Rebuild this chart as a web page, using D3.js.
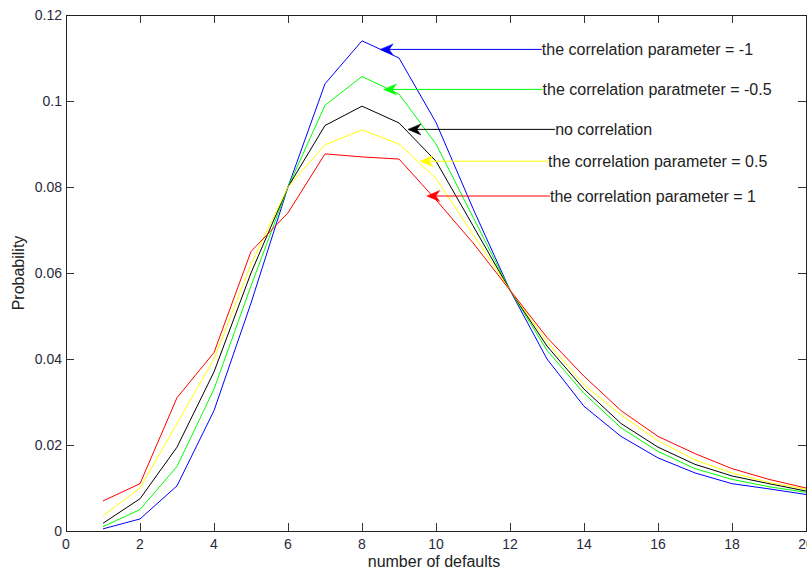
<!DOCTYPE html>
<html>
<head>
<meta charset="utf-8">
<script src="https://cdn.jsdelivr.net/npm/d3@7"></script>
<style>
  body { margin: 0; background: #fff; }
  svg { display: block; font-family: "Liberation Sans", Arial, sans-serif; }
</style>
</head>
<body>
<svg width="807" height="572"></svg>
<script>
// number of defaults
var defaults = [1,2,3,4,5,6,7,8,9,10,11,12,13,14,15,16,17,18,19,20];

// probability per correlation parameter
var rhoMinus1 = [0.0005,0.0028,0.0105,0.028,0.053,0.080,0.104,0.114,0.110,0.095,0.075,0.056,0.040,0.029,0.022,0.017,0.0135,0.011,0.0098,0.0085];
var rhoMinus05 = [0.001,0.005,0.015,0.033,0.057,0.080,0.099,0.1057,0.1016,0.090,0.073,0.056,0.042,0.032,0.024,0.0185,0.0145,0.012,0.0103,0.009];
var rhoZero = [0.0018,0.0075,0.0195,0.037,0.060,0.080,0.0943,0.0988,0.0949,0.086,0.071,0.056,0.043,0.033,0.025,0.0195,0.0155,0.0128,0.011,0.0093];
var rhoPlus05 = [0.0035,0.010,0.025,0.040,0.062,0.080,0.0898,0.0933,0.090,0.082,0.069,0.056,0.044,0.034,0.027,0.021,0.0165,0.0135,0.0113,0.0097];
var rhoPlus1 = [0.007,0.011,0.031,0.0415,0.065,0.074,0.0877,0.087,0.0865,0.077,0.067,0.056,0.045,0.036,0.028,0.022,0.018,0.0145,0.012,0.010];

var seriesColors = ["#0000ff", "#00ff00", "#000000", "#ffff00", "#ff0000"];
var seriesValues = [rhoMinus1, rhoMinus05, rhoZero, rhoPlus05, rhoPlus1];

// annotation labels, arrow tip and text start in data units
var noteLabels = ["the correlation parameter = -1", "the correlation paratmeter = -0.5",
                  "no correlation", "the correlation parameter = 0.5", "the correlation parameter = 1"];
var noteTipX = [8.49, 8.58, 9.24, 9.57, 9.75];
var noteTipY = [0.112, 0.1027, 0.0934, 0.0860, 0.0779];
var noteTextX = [12.86, 12.88, 13.22, 13.03, 13.08];

var xTicks = [0,2,4,6,8,10,12,14,16,18,20];
var yTicks = [0,0.02,0.04,0.06,0.08,0.1,0.12];

var plotLeft = 66, plotRight = 806, plotTop = 15, plotBottom = 531;

var svg = d3.select("svg");

var x = d3.scaleLinear().domain([0, 20]).range([plotLeft, plotRight]);
var y = d3.scaleLinear().domain([0, 0.12]).range([plotBottom, plotTop]);

// inward ticks on all four sides
svg.append("g")
    .attr("transform", "translate(0," + plotBottom + ")")
    .call(d3.axisTop(x).tickValues(xTicks).tickSize(8).tickFormat(""));
svg.append("g")
    .attr("transform", "translate(0," + plotTop + ")")
    .call(d3.axisBottom(x).tickValues(xTicks).tickSize(8).tickFormat(""));
svg.append("g")
    .attr("transform", "translate(" + plotLeft + ",0)")
    .call(d3.axisRight(y).tickValues(yTicks).tickSize(8).tickFormat(""));
svg.append("g")
    .attr("transform", "translate(" + plotRight + ",0)")
    .call(d3.axisLeft(y).tickValues(yTicks).tickSize(8).tickFormat(""));
svg.selectAll(".domain").remove();
svg.selectAll(".tick line").attr("stroke", "#333");

svg.append("rect")
    .attr("x", plotLeft + 0.5).attr("y", plotTop + 0.5)
    .attr("width", plotRight - plotLeft).attr("height", plotBottom - plotTop)
    .attr("fill", "none").attr("stroke", "#222");

// tick labels
svg.append("g").selectAll("text")
    .data(xTicks).enter().append("text")
    .attr("x", function(d) { return x(d); })
    .attr("y", plotBottom + 18)
    .attr("text-anchor", "middle")
    .attr("font-size", 14).attr("fill", "#2a2a3a")
    .text(function(d) { return d; });

svg.append("g").selectAll("text")
    .data(yTicks).enter().append("text")
    .attr("x", plotLeft - 4)
    .attr("y", function(d) { return y(d) + 5; })
    .attr("text-anchor", "end")
    .attr("font-size", 14).attr("fill", "#2a2a3a")
    .text(function(d) { return d; });

svg.append("text")
    .attr("x", 434).attr("y", 567)
    .attr("text-anchor", "middle")
    .attr("font-size", 16).attr("fill", "#222")
    .text("number of defaults");

svg.append("text")
    .attr("transform", "translate(24," + ((plotTop + plotBottom) / 2) + ") rotate(-90)")
    .attr("text-anchor", "middle")
    .attr("font-size", 16).attr("fill", "#222")
    .text("Probability");

// curves
var line = d3.line()
    .x(function(d, i) { return x(defaults[i]); })
    .y(function(d) { return y(d); });

svg.append("g").selectAll("path")
    .data(seriesValues).enter().append("path")
    .attr("d", line)
    .attr("fill", "none")
    .attr("stroke", function(d, i) { return seriesColors[i]; })
    .attr("stroke-width", 1);

// annotations
var notes = svg.append("g").selectAll("g")
    .data(noteLabels).enter().append("g");

notes.append("line")
    .attr("x1", function(d, i) { return x(noteTextX[i]); })
    .attr("x2", function(d, i) { return x(noteTipX[i]) + 8; })
    .attr("y1", function(d, i) { return y(noteTipY[i]); })
    .attr("y2", function(d, i) { return y(noteTipY[i]); })
    .attr("stroke", function(d, i) { return seriesColors[i]; })
    .attr("stroke-width", 1);

notes.append("path")
    .attr("d", "M0,0 L13,-5.5 L9,0 L13,5.5 Z")
    .attr("transform", function(d, i) {
        return "translate(" + x(noteTipX[i]) + "," + y(noteTipY[i]) + ")";
    })
    .attr("fill", function(d, i) { return seriesColors[i]; })
    .attr("stroke", function(d, i) { return seriesColors[i]; })
    .attr("stroke-width", 0.5);

notes.append("text")
    .attr("x", function(d, i) { return x(noteTextX[i]); })
    .attr("y", function(d, i) { return y(noteTipY[i]) + 6; })
    .attr("font-size", 16).attr("fill", "#222")
    .text(function(d) { return d; });
</script>
</body>
</html>
